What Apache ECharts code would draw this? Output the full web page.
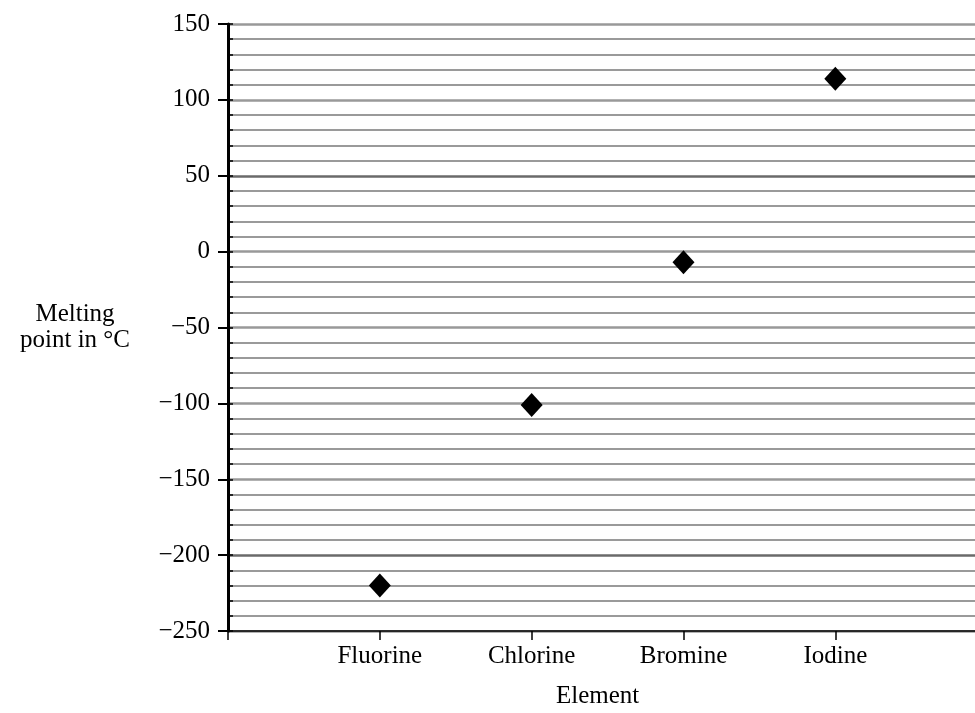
<!DOCTYPE html>
<html>
<head>
<meta charset="utf-8">
<script src="https://cdn.jsdelivr.net/npm/echarts@6/dist/echarts.min.js"></script>
<style>
  html, body { margin: 0; padding: 0; background: #fff; }
  #chart { width: 975px; height: 713px; }
</style>
</head>
<body>
<div id="chart"></div>
<script>
const categories = ["Fluorine", "Chlorine", "Bromine", "Iodine"];
const meltingPoints = [-220, -101, -7, 114];
const yTicks = [-250, -200, -150, -100, -50, 0, 50, 100, 150];

const font = "Liberation Serif";
const chart = echarts.init(document.getElementById("chart"));

// x positions 1..4, one per element
const points = categories.map((c, i) => [i + 1, meltingPoints[i]]);
const xTickValues = [0].concat(categories.map((c, i) => i + 1));

chart.setOption({
  backgroundColor: "#fff",
  animation: false,
  grid: { left: 228, right: 0, top: 24, bottom: 82 },
  xAxis: {
    type: "value",
    min: 0,
    max: 4.92,
    interval: 1,
    axisLine: { onZero: false, lineStyle: { color: "#000", width: 1.5 } },
    axisTick: {
      length: 9,
      customValues: xTickValues,
      lineStyle: { color: "#000", width: 1.5 },
    },
    axisLabel: {
      margin: 13,
      fontFamily: font,
      fontSize: 25,
      color: "#000",
      customValues: xTickValues.slice(1),
      formatter: (v) => categories[Math.round(v) - 1] || "",
    },
    splitLine: { show: false },
  },
  yAxis: [
    {
      type: "value",
      min: yTicks[0],
      max: yTicks[yTicks.length - 1],
      interval: 50,
      name: "Melting\npoint in °C",
      nameLocation: "middle",
      nameRotate: 0,
      nameGap: 153,
      nameTextStyle: {
        fontFamily: font,
        fontSize: 25,
        color: "#000",
        align: "center",
        verticalAlign: "middle",
        lineHeight: 26,
      },
      axisLine: { lineStyle: { color: "#000", width: 3 } },
      axisTick: { length: 10, lineStyle: { color: "#000", width: 2 } },
      axisLabel: {
        margin: 18,
        fontFamily: font,
        fontSize: 25,
        color: "#000",
        formatter: (v) => String(v).replace("-", "\u2212"),
      },
      splitLine: {
        lineStyle: {
          color: ["#999", "#6a6a6a", "#999", "#999", "#999"],
          width: 2.5,
        },
      },
      minorTick: { show: false, splitNumber: 5 },
      minorSplitLine: { show: true, lineStyle: { color: "#9a9a9a", width: 2 } },
    },
    {
      // inner minor ticks every 10
      type: "value",
      min: yTicks[0],
      max: yTicks[yTicks.length - 1],
      interval: 10,
      position: "left",
      axisLine: { show: false },
      axisTick: { inside: true, length: 5, lineStyle: { color: "#000", width: 1.5 } },
      axisLabel: { show: false },
      splitLine: { show: false },
    },
  ],
  graphic: [
    {
      type: "text",
      left: 556,
      top: 684,
      style: { text: "Element", font: "25px " + font, fill: "#000" },
    },
  ],
  series: [
    {
      type: "scatter",
      data: points,
      symbol: "diamond",
      symbolSize: [22, 24],
      itemStyle: { color: "#000", opacity: 1 },
      z: 5,
    },
  ],
});
</script>
</body>
</html>
